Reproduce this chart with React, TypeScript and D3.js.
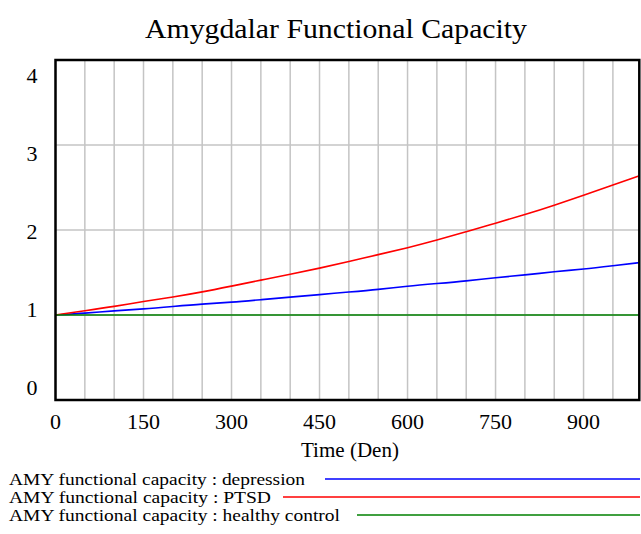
import React from "react";
import * as d3 from "d3";

const title = "Amygdalar Functional Capacity";
const xLabel = "Time (Den)";
const times = [0, 50, 100, 150, 200, 250, 300, 350, 400, 450, 500, 550, 600, 650, 700, 750, 800, 850, 900, 950, 1000];
const depression = [1.0, 1.02, 1.05, 1.07, 1.1, 1.13, 1.15, 1.18, 1.21, 1.24, 1.27, 1.3, 1.34, 1.37, 1.4, 1.44, 1.47, 1.51, 1.54, 1.58, 1.62];
const ptsd = [1.0, 1.05, 1.1, 1.16, 1.21, 1.27, 1.34, 1.41, 1.48, 1.55, 1.63, 1.71, 1.79, 1.88, 1.98, 2.08, 2.18, 2.29, 2.41, 2.53, 2.65];
const healthy = [1.0, 1.0, 1.0, 1.0, 1.0, 1.0, 1.0, 1.0, 1.0, 1.0, 1.0, 1.0, 1.0, 1.0, 1.0, 1.0, 1.0, 1.0, 1.0, 1.0, 1.0];
const xTicks = [0, 150, 300, 450, 600, 750, 900];
const yTicks = [0, 1, 2, 3, 4];
const xGrid = d3.range(0, 1000, 50);
const seriesNames = [
  "AMY functional capacity : depression",
  "AMY functional capacity : PTSD",
  "AMY functional capacity : healthy control",
];
const seriesColors = ["#0000ff", "#ff0000", "#008000"];

export default function App() {
  const W = 641, H = 534;
  const left = 55.5, right = 639.3, top = 60, bottom = 400;
  const x = d3.scaleLinear().domain([0, 995]).range([left, right]);
  const y = d3.scaleLinear().domain([0, 4]).range([bottom, top]);
  const yLab = d3.scaleLinear().domain([0, 4]).range([394.5, 82.5]);
  const font = "'Liberation Serif', 'Times New Roman', serif";
  const pts = times.map((t, i) => i);
  const line = (vals: number[]) =>
    d3.line<number>().x((i) => x(times[i])).y((i) => y(vals[i])).curve(d3.curveBasis)(pts) || "";
  const allSeries = [depression, ptsd, healthy];
  const legendY = [479, 497, 515];
  const legendStart = [325, 283, 357];
  const legendWidth = [296, 262, 331];
  return (
    <svg width={W} height={H} style={{ position: "absolute", left: 0, top: 0, fontFamily: font }}>
      <defs>
        <clipPath id="plot">
          <rect x={left} y={top} width={right - left} height={bottom - top} />
        </clipPath>
      </defs>
      <rect width={W} height={H} fill="#fff" />
      <text x={336} y={38} textAnchor="middle" fontSize={27} textLength={382} lengthAdjust="spacingAndGlyphs" style={{ fontFamily: font }}>{title}</text>
      {xGrid.map((t) => (
        <line key={"gx" + t} x1={x(t)} x2={x(t)} y1={top} y2={bottom} stroke="#c4c4c4" strokeWidth={1.5} />
      ))}
      {yTicks.map((v) => (
        <line key={"gy" + v} x1={left} x2={right} y1={y(v)} y2={y(v)} stroke="#c4c4c4" strokeWidth={1.5} />
      ))}
      <g clipPath="url(#plot)">
        {allSeries.map((s, i) => (
          <path key={"s" + i} d={line(s)} fill="none" stroke={seriesColors[i]} strokeWidth={1.6} />
        ))}
      </g>
      <rect x={left} y={top} width={right - left} height={bottom - top} fill="none" stroke="#000" strokeWidth={2.5} />
      {yTicks.map((v) => (
        <text key={"yl" + v} x={32} y={yLab(v)} textAnchor="middle" fontSize={22} style={{ fontFamily: font }}>{v}</text>
      ))}
      {xTicks.map((t) => (
        <text key={"xl" + t} x={x(t)} y={429} textAnchor="middle" fontSize={22} style={{ fontFamily: font }}>{t}</text>
      ))}
      <text x={350} y={457} textAnchor="middle" fontSize={20} textLength={98} lengthAdjust="spacingAndGlyphs" style={{ fontFamily: font }}>{xLabel}</text>
      {seriesNames.map((n, i) => (
        <g key={"lg" + i}>
          <text x={9} y={legendY[i] + 5.5} fontSize={17.5} textLength={legendWidth[i]} lengthAdjust="spacingAndGlyphs" style={{ fontFamily: font }}>{n}</text>
          <line x1={legendStart[i]} x2={640} y1={legendY[i]} y2={legendY[i]} stroke={seriesColors[i]} strokeWidth={1.5} />
        </g>
      ))}
    </svg>
  );
}
